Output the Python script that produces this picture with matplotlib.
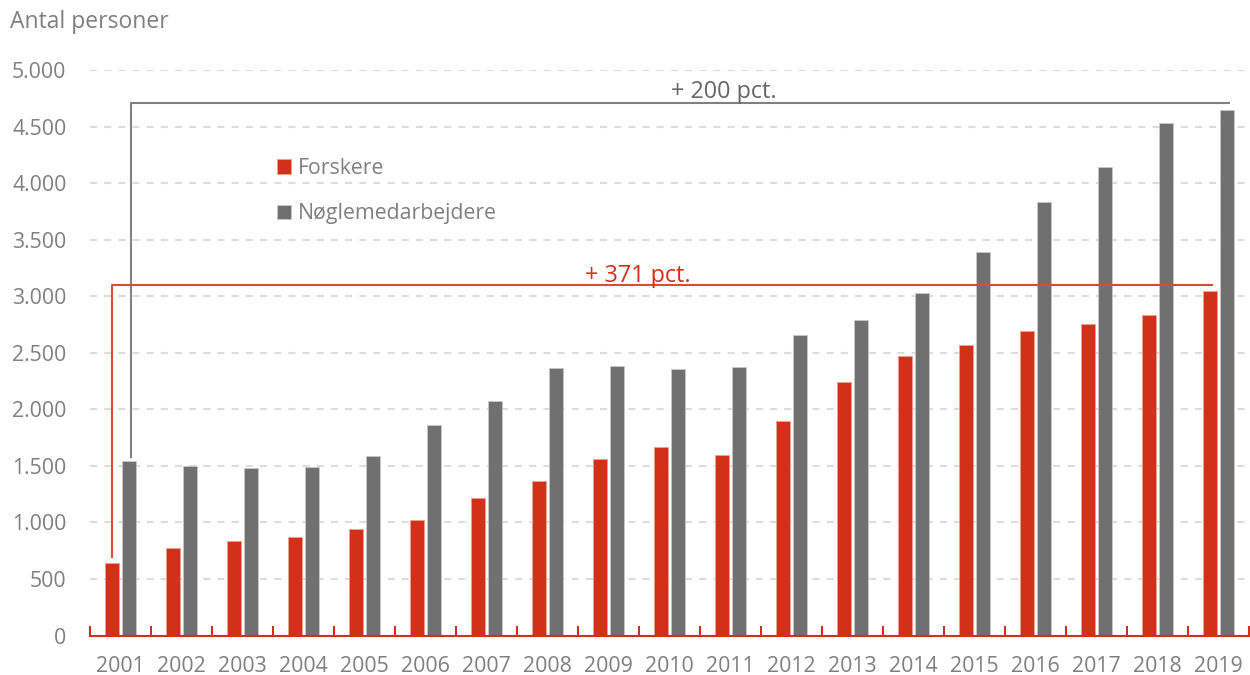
import matplotlib
matplotlib.use("Agg")
import matplotlib.pyplot as plt
import numpy as np

years = [str(y) for y in range(2001, 2020)]
forskere = [642, 772, 834, 872, 940, 1022, 1216, 1364, 1559, 1668, 1597, 1898,
            2243, 2470, 2565, 2695, 2750, 2834, 3046]
noegle = [1546, 1497, 1480, 1488, 1588, 1857, 2075, 2365, 2382, 2358, 2373, 2657,
          2789, 3028, 3394, 3830, 4143, 4533, 4650]
series_labels = ["Forskere", "Nøglemedarbejdere"]
y_ticks = [0, 500, 1000, 1500, 2000, 2500, 3000, 3500, 4000, 4500, 5000]
y_ticklabels = ["0", "500", "1.000", "1.500", "2.000", "2.500", "3.000",
                "3.500", "4.000", "4.500", "5.000"]
ylabel_text = "Antal personer"
ann_gray_text = "+ 200 pct."
ann_red_text = "+ 371 pct."
ann_gray_level = 4704
ann_red_level = 3101

RED = "#D3301A"
GRAY = "#707070"
TXT = "#7F7F7F"
FONT = "Open Sans"

plt.rcParams['font.family'] = [FONT, 'DejaVu Sans']

fig = plt.figure(figsize=(12.5, 6.75), dpi=100)
ax = fig.add_axes([90 / 1250, 39.5 / 675, (1249 - 90) / 1250, (635.5 - 70) / 675])

x = np.arange(len(years))
w = 0.225
off = 0.14
ax.bar(x - off, forskere, width=w, color=RED, edgecolor="#F0A090", linewidth=0.6,
       label=series_labels[0], zorder=3)
ax.bar(x + off, noegle, width=w, color=GRAY, edgecolor="#C8C8C8", linewidth=0.6,
       label=series_labels[1], zorder=3)

ax.set_xlim(-0.5, len(years) - 0.5)
ax.set_ylim(0, 5000)
ax.set_yticks(y_ticks)
ax.set_yticklabels(y_ticklabels)
ax.set_xticks(x)
ax.set_xticklabels(years)
ax.set_xticks(np.arange(-0.5, len(years), 1), minor=True)

ax.tick_params(axis="x", which="major", length=0, pad=15, labelsize=15.3, labelcolor=TXT)
ax.tick_params(axis="x", which="minor", direction="in", length=7, width=1.5, color=RED)
ax.tick_params(axis="y", length=0, pad=17, labelsize=15.3, labelcolor=TXT)

for s in ["top", "right", "left"]:
    ax.spines[s].set_visible(False)
ax.spines["bottom"].set_color(RED)
ax.spines["bottom"].set_linewidth(1.5)
ax.spines["bottom"].set_zorder(4)

ax.yaxis.grid(True, color="#DCDCDC", linestyle=(0, (3.4, 3.4)), linewidth=1.5)
ax.set_axisbelow(True)

# brackets
gx0 = x[0] + 0.166
gx1 = x[-1] + 0.18
ax.plot([gx0, gx0, gx1], [noegle[0] + 35, ann_gray_level, ann_gray_level],
        color="#808080", linewidth=1.5, clip_on=False, zorder=5)
rx0 = x[0] - 0.145
rx1 = x[-1] - 0.11
ax.plot([rx0, rx0, rx1], [forskere[0] + 55, ann_red_level, ann_red_level],
        color="#DA4A34", linewidth=1.5, clip_on=False, zorder=5)
ax.text(9.89, ann_gray_level + 48, ann_gray_text, ha="center", va="baseline",
        fontsize=16.8, color="#666666", zorder=6)
ax.text(8.48, ann_red_level + 28, ann_red_text, ha="center", va="baseline",
        fontsize=16.8, color=RED, zorder=6)

fig.text(10 / 1250, 1 - 22 / 675, ylabel_text, ha="left", va="center",
         fontsize=16.5, color=TXT)

leg = ax.legend(loc="upper left", bbox_to_anchor=(277 / 1250, 1 - 158 / 675),
                bbox_transform=fig.transFigure, frameon=False, fontsize=15.3,
                handlelength=0.68, handleheight=0.68, handletextpad=0.3,
                labelspacing=1.15, borderpad=0, borderaxespad=0)
for t in leg.get_texts():
    t.set_color(TXT)

fig.savefig("out.png", dpi=100)
